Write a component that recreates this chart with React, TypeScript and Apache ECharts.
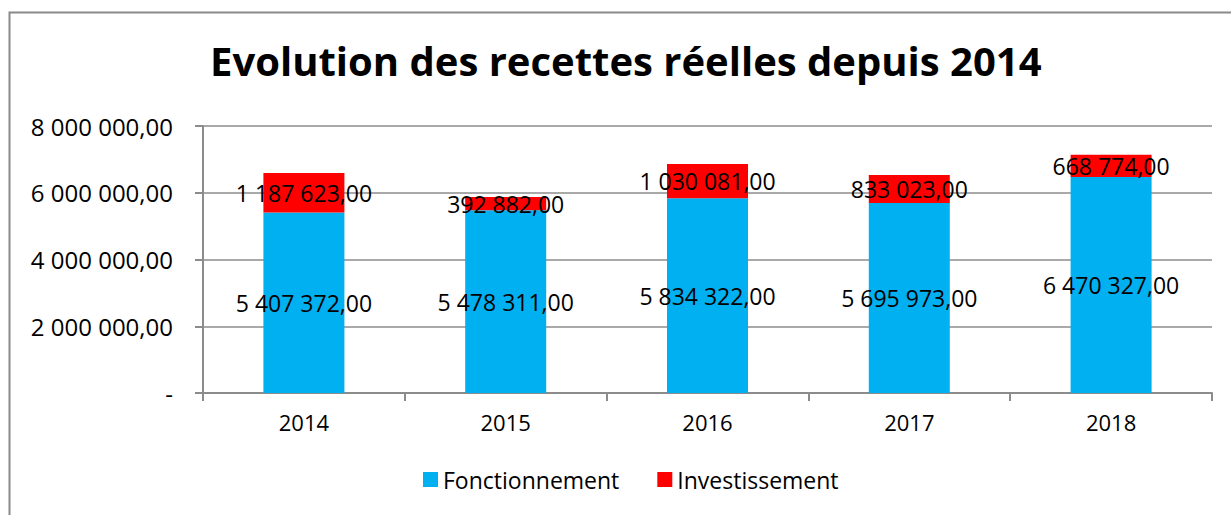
import React, { useEffect, useRef } from "react";
import * as echarts from "echarts";

const categories = ["2014", "2015", "2016", "2017", "2018"];
const fonctionnement = [5407372, 5478311, 5834322, 5695973, 6470327];
const investissement = [1187623, 392882, 1030081, 833023, 668774];
const yTicks = [0, 2000000, 4000000, 6000000, 8000000];

const FONT = "'Open Sans', sans-serif";

function fmt(v: number): string {
  if (v === 0) return "-";
  const s = Math.round(v).toString().replace(/\B(?=(\d{3})+(?!\d))/g, " ");
  return s + ",00";
}

export default function App() {
  const ref = useRef<HTMLDivElement>(null);
  useEffect(() => {
    if (!ref.current) return;
    const chart = echarts.init(ref.current, null, { renderer: "svg" });
    chart.setOption({
      animation: false,
      backgroundColor: "#ffffff",
      graphic: [
        {
          type: "rect",
          shape: { x: 9.5, y: 12.5, width: 1300, height: 600 },
          style: { fill: "none", stroke: "#8a8a8a", lineWidth: 2 },
          z: -10,
          silent: true,
        },
      ],
      title: {
        text: "Evolution des recettes réelles depuis 2014",
        left: 205,
        top: 35,
        textStyle: { fontFamily: FONT, fontSize: 40, fontWeight: "bold", color: "#000" },
      },
      legend: {
        bottom: 19,
        left: 418,
        itemWidth: 15,
        itemHeight: 15,
        itemGap: 38,
        icon: "rect",
        textStyle: { fontFamily: FONT, fontSize: 23, color: "#000" },
        data: ["Fonctionnement", "Investissement"],
      },
      grid: { left: 203, right: 19, top: 126, bottom: 122, containLabel: false },
      xAxis: {
        type: "category",
        data: categories,
        axisLine: { lineStyle: { color: "#8c8c8c", width: 2 } },
        axisTick: { show: true, length: 8, lineStyle: { color: "#8c8c8c", width: 2 } },
        axisLabel: { fontFamily: FONT, fontSize: 22, color: "#000", margin: 18 },
      },
      yAxis: {
        type: "value",
        min: 0,
        max: 8000000,
        interval: 2000000,
        axisLine: { show: true, lineStyle: { color: "#8c8c8c", width: 2 } },
        axisTick: { show: true, length: 8, lineStyle: { color: "#8c8c8c", width: 2 } },
        splitLine: { show: true, lineStyle: { color: "#8c8c8c", width: 1.5 } },
        axisLabel: {
          fontFamily: FONT,
          fontSize: 24,
          color: "#000",
          margin: 30,
          formatter: (v: number) => (yTicks.includes(v) ? fmt(v) : ""),
        },
      },
      series: [
        {
          name: "Fonctionnement",
          type: "bar",
          stack: "total",
          barWidth: 81,
          data: fonctionnement,
          itemStyle: { color: "#00B0F0" },
          label: {
            show: true,
            position: "inside",
            fontFamily: FONT,
            fontSize: 23,
            color: "#000",
            formatter: (p: any) => fmt(p.value),
          },
        },
        {
          name: "Investissement",
          type: "bar",
          stack: "total",
          barWidth: 81,
          data: investissement,
          itemStyle: { color: "#FF0000" },
          label: {
            show: true,
            position: "inside",
            fontFamily: FONT,
            fontSize: 23,
            color: "#000",
            formatter: (p: any) => fmt(p.value),
          },
          labelLayout: { hideOverlap: false },
        },
      ],
    });
    return () => chart.dispose();
  }, []);
  return (
    <div
      ref={ref}
      style={{ position: "absolute", left: 0, top: 0, width: 1231, height: 515 }}
    />
  );
}
